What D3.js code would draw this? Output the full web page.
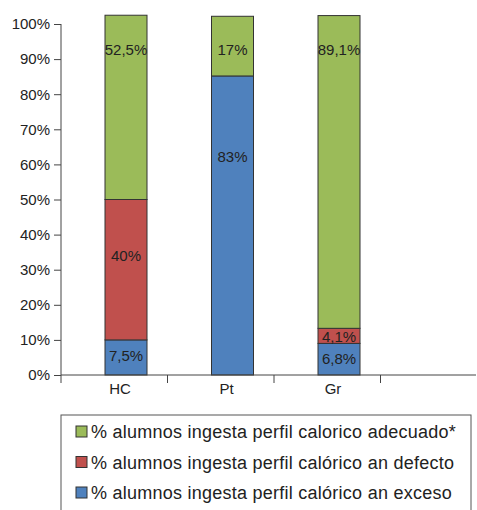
<!DOCTYPE html>
<html>
<head>
<meta charset="utf-8">
<script src="https://cdn.jsdelivr.net/npm/d3@7"></script>
<style>
  body { margin: 0; background: #fff; }
  text { font-family: "Liberation Sans", Arial, sans-serif; fill: #222; }
</style>
</head>
<body>
<div id="chart"></div>
<script>
// Chart data
const categories = ['HC', 'Pt', 'Gr', ''];      // last slot is left empty
const exceso   = [10, 85.2, 9.0, 0];            // drawn heights
const defecto  = [40, 0, 4.3, 0];
const adecuado = [52.5, 17, 89.1, 0];
// Texts written on the bars, and the height (in %) they sit at
const excesoLabels   = ['7,5%', '83%', '6,8%'];
const defectoLabels  = ['40%', null, '4,1%'];
const adecuadoLabels = ['52,5%', '17%', '89,1%'];
const excesoLabelAt   = [5.4, 62.1, 4.6];
const defectoLabelAt  = [33.9, null, 10.8];
const adecuadoLabelAt = [92.6, 92.6, 92.6];
const yTicks = [0, 10, 20, 30, 40, 50, 60, 70, 80, 90, 100];

const keys = ['exceso', 'defecto', 'adecuado'];
const colors = { exceso: '#4F81BD', defecto: '#C0504D', adecuado: '#9BBB59' };
const legendNames = {
  adecuado: '% alumnos ingesta perfil calorico adecuado*',
  defecto: '% alumnos ingesta perfil calórico an defecto',
  exceso: '% alumnos ingesta perfil calórico an exceso'
};

const width = 477;
const height = 510;

let svg = d3.select('#chart')
  .append('svg')
  .attr('width', width)
  .attr('height', height);

// Scales
let x = d3.scaleBand()
  .domain(categories)
  .range([61, 61 + 4 * 106.5]);

let y = d3.scaleLinear()
  .domain([0, 100])
  .range([375, 24]);

// Rows for the stack
let rows = categories.map((c, i) => ({
  cat: c, exceso: exceso[i], defecto: defecto[i], adecuado: adecuado[i]
}));
let series = d3.stack().keys(keys)(rows);

// Bars (sit right of the band centre, as in the original)
let barOffset = 44;
let barWidth = 42;

svg.append('g')
  .selectAll('g')
  .data(series)
  .enter()
  .append('g')
  .attr('fill', (d) => colors[d.key])
  .selectAll('rect')
  .data((d) => d.filter((p) => p[1] - p[0] > 0))
  .enter()
  .append('rect')
  .attr('x', (d) => x(d.data.cat) + barOffset)
  .attr('y', (d) => y(d[1]))
  .attr('width', barWidth)
  .attr('height', (d) => y(d[0]) - y(d[1]))
  .attr('stroke', '#333')
  .attr('stroke-width', 1);

// Bar labels
let labelSets = [
  [excesoLabels, excesoLabelAt],
  [defectoLabels, defectoLabelAt],
  [adecuadoLabels, adecuadoLabelAt]
];
labelSets.forEach(([texts, at]) => {
  svg.append('g')
    .selectAll('text')
    .data(texts.map((t, i) => ({ t: t, v: at[i], cat: categories[i] })).filter((d) => d.t))
    .enter()
    .append('text')
    .attr('x', (d) => x(d.cat) + barOffset + barWidth / 2)
    .attr('y', (d) => y(d.v))
    .attr('dy', '.35em')
    .attr('text-anchor', 'middle')
    .style('font-size', '15px')
    .text((d) => d.t);
});

// Y axis
let yAxis = svg.append('g')
  .attr('transform', 'translate(61,0)')
  .call(d3.axisLeft(y).tickValues(yTicks).tickFormat((d) => d + '%').tickSize(7).tickPadding(4));
yAxis.select('.domain').remove();
yAxis.selectAll('line').attr('stroke', '#444');
yAxis.selectAll('text').style('font-size', '15px').style('fill', '#222')
  .style('font-family', '"Liberation Sans", Arial, sans-serif');

svg.append('line')
  .attr('x1', 61).attr('x2', 61)
  .attr('y1', y(100)).attr('y2', 383)
  .attr('stroke', '#444');

// X axis
svg.append('line')
  .attr('x1', 61).attr('x2', 476)
  .attr('y1', y(0)).attr('y2', y(0))
  .attr('stroke', '#444');

svg.append('g')
  .selectAll('line')
  .data(categories.slice(1))
  .enter()
  .append('line')
  .attr('x1', (d) => x(d)).attr('x2', (d) => x(d))
  .attr('y1', y(0)).attr('y2', y(0) + 8)
  .attr('stroke', '#444');

svg.append('g')
  .selectAll('text')
  .data(categories.filter((c) => c))
  .enter()
  .append('text')
  .attr('x', (d) => x(d) + 59)
  .attr('y', 389)
  .attr('dy', '.35em')
  .attr('text-anchor', 'middle')
  .style('font-size', '15px')
  .text((d) => d);

// Legend
let legend = svg.append('g');
legend.append('rect')
  .attr('x', 61).attr('y', 415)
  .attr('width', 410).attr('height', 120)
  .attr('fill', 'none')
  .attr('stroke', '#555');

let item = legend.selectAll('g')
  .data(['adecuado', 'defecto', 'exceso'])
  .enter()
  .append('g')
  .attr('transform', (d, i) => 'translate(76,' + (432 + i * 30.5) + ')');

item.append('rect')
  .attr('x', 0).attr('y', -6)
  .attr('width', 11).attr('height', 11)
  .attr('fill', (d) => colors[d])
  .attr('stroke', '#333');

item.append('text')
  .attr('x', 15)
  .attr('dy', '.35em')
  .style('font-size', '18px')
  .style('letter-spacing', '0.25px')
  .text((d) => legendNames[d]);
</script>
</body>
</html>
